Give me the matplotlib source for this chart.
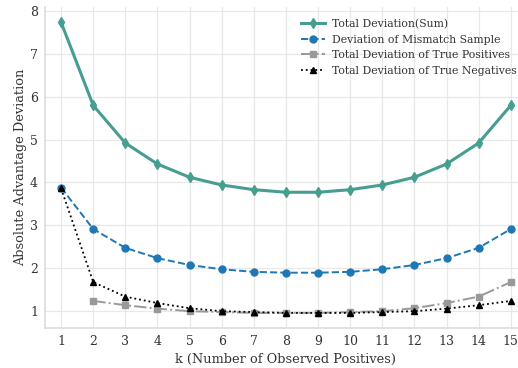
import numpy as np
import matplotlib
matplotlib.use("Agg")
import matplotlib.pyplot as plt

k = np.arange(1, 16)

total_dev = [7.74, 5.80, 4.92, 4.43, 4.12, 3.94, 3.83, 3.77, 3.77, 3.83, 3.94, 4.12, 4.43, 4.92, 5.80]
mismatch_dev = [3.88, 2.91, 2.47, 2.23, 2.07, 1.97, 1.91, 1.89, 1.89, 1.91, 1.97, 2.07, 2.23, 2.47, 2.91]
tp_dev = [np.nan, 1.23, 1.13, 1.05, 0.99, 0.97, 0.95, 0.95, 0.95, 0.97, 0.99, 1.06, 1.18, 1.33, 1.67]
tn_dev = [3.86, 1.67, 1.33, 1.18, 1.06, 0.99, 0.97, 0.95, 0.95, 0.95, 0.97, 0.99, 1.05, 1.13, 1.23]

plt.rcParams["font.family"] = ["DejaVu Serif"]
plt.rcParams["text.color"] = "#333333"
plt.rcParams["axes.labelcolor"] = "#333333"
plt.rcParams["xtick.color"] = "#333333"
plt.rcParams["ytick.color"] = "#333333"

fig = plt.figure(figsize=(5.18, 3.68), dpi=100)
# axes runs a bit past the right edge, as in the (cropped) reference
ax = fig.add_axes([0.087, 0.109, 0.93, 0.872])

ax.plot(k, total_dev, color="#459e90", lw=2.2, marker="d", ms=5,
        label="Total Deviation(Sum)", zorder=4)
ax.plot(k, mismatch_dev, color="#1f77b4", lw=1.4, ls="--", marker="o", ms=5,
        label="Deviation of Mismatch Sample", zorder=3)
ax.plot(k, tp_dev, color="#999999", lw=1.4, ls="-.", marker="s", ms=5,
        label="Total Deviation of True Positives", zorder=3)
ax.plot(k, tn_dev, color="black", lw=1.3, ls=":", marker="^", ms=5,
        label="Total Deviation of True Negatives", zorder=3)

ax.set_xlim(0.5, 15.5)
ax.set_ylim(0.6, 8.1)
ax.set_xticks(k)
ax.set_yticks(range(1, 9))
ax.tick_params(length=0, labelsize=9, pad=5)
ax.set_xlabel("k (Number of Observed Positives)", fontsize=9.3)
ax.set_ylabel("Absolute Advantage Deviation", fontsize=9.3, labelpad=2)

ax.grid(True, color="#e8e8e8", lw=0.9, zorder=0)
ax.set_axisbelow(True)
for side in ["top", "right"]:
    ax.spines[side].set_visible(False)
for side in ["left", "bottom"]:
    ax.spines[side].set_color("#dddddd")
    ax.spines[side].set_linewidth(1.2)

ax.legend(loc="upper left", bbox_to_anchor=(0.573, 0.961),
          bbox_transform=fig.transFigure, borderaxespad=0, frameon=False,
          fontsize=7.8, handlelength=2.2, handletextpad=0.65, labelspacing=0.52)

fig.savefig("out.png", dpi=100)
